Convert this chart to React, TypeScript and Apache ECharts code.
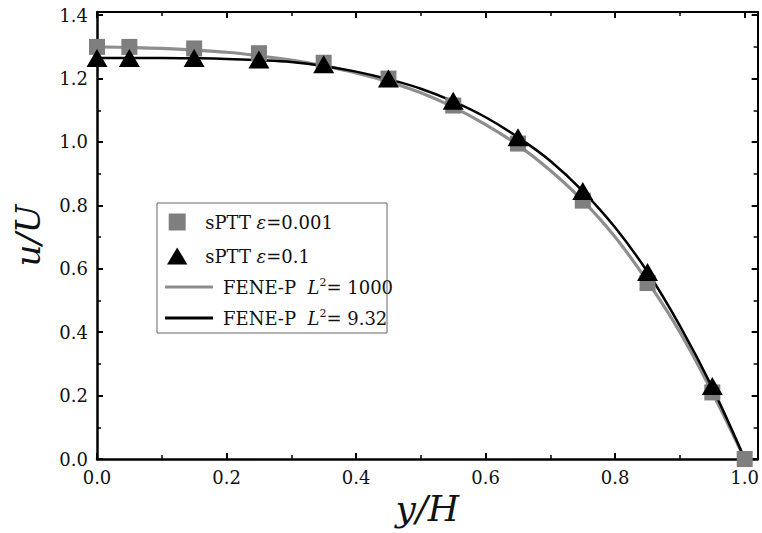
import React, { useEffect, useRef } from "react";
import * as echarts from "echarts";

const squareX = [0, 0.05, 0.15, 0.25, 0.35, 0.45, 0.55, 0.65, 0.75, 0.85, 0.95, 1.0];
const squareY = [1.3, 1.3, 1.295, 1.28, 1.25, 1.2, 1.115, 0.995, 0.815, 0.555, 0.21, 0.0];
const triX = [0, 0.05, 0.15, 0.25, 0.35, 0.45, 0.55, 0.65, 0.75, 0.85, 0.95];
const triY = [1.265, 1.265, 1.265, 1.26, 1.245, 1.2, 1.13, 1.015, 0.845, 0.59, 0.23];
const lineX = [0, 0.05, 0.1, 0.15, 0.2, 0.25, 0.3, 0.35, 0.4, 0.45, 0.5, 0.55, 0.6, 0.65, 0.7, 0.75, 0.8, 0.85, 0.9, 0.95, 1.0];
const grayLineY = [1.3, 1.298, 1.295, 1.29, 1.283, 1.272, 1.258, 1.24, 1.218, 1.19, 1.155, 1.11, 1.055, 0.99, 0.91, 0.815, 0.7, 0.56, 0.4, 0.21, 0.0];
const blackLineY = [1.265, 1.265, 1.265, 1.264, 1.262, 1.258, 1.252, 1.24, 1.222, 1.198, 1.168, 1.128, 1.078, 1.015, 0.94, 0.845, 0.73, 0.59, 0.42, 0.225, 0.0];

const names = ["sPTT e0.001", "sPTT e0.1", "FENE-P 1000", "FENE-P 9.32"];
const legendText: Record<string, string> = {
  "sPTT e0.001": "{n|sPTT }{i|ε}{n|=0.001}",
  "sPTT e0.1": "{n|sPTT }{i|ε}{n|=0.1}",
  "FENE-P 1000": "{g|}{n|FENE-P  }{i|L}{s|2}{n|= 1000}",
  "FENE-P 9.32": "{g|}{n|FENE-P  }{i|L}{s|2}{n|= 9.32}",
};

const FONT = "DejaVu Serif";

const rich = {
  g: { width: 5, lineHeight: 20 },
  n: { fontFamily: FONT, fontSize: 18, color: "#111", lineHeight: 20 },
  i: { fontFamily: FONT, fontSize: 18, fontStyle: "italic", color: "#111", lineHeight: 20 },
  s: { fontFamily: FONT, fontSize: 11, color: "#111", lineHeight: 11, verticalAlign: "top" },
};

export default function App() {
  const ref = useRef<HTMLDivElement>(null);
  useEffect(() => {
    document.body.style.margin = "0";
    if (!ref.current) return;
    const chart = echarts.init(ref.current, null, { renderer: "svg" });
    const axisCommon = {
      type: "value",
      axisLine: { show: true, onZero: false, lineStyle: { color: "#000", width: 2.5 } },
      axisTick: { show: true, inside: true, length: 6, lineStyle: { color: "#000", width: 2 } },
      minorTick: { show: true, splitNumber: 2, length: 4, lineStyle: { color: "#000", width: 1.5 } },
      splitLine: { show: false },
    };
    const option = {
      animation: false,
      backgroundColor: "#fff",
      grid: { left: 97, top: 12, right: 3, bottom: 74 },
      xAxis: [
        {
          ...axisCommon,
          min: 0,
          max: 1.02,
          interval: 0.2,
          name: "y/H",
          nameLocation: "middle",
          nameGap: 24,
          nameTextStyle: { fontFamily: FONT, fontStyle: "italic", fontSize: 36, color: "#111" },
          axisLabel: {
            showMaxLabel: false,
            margin: 9,
            fontFamily: FONT,
            fontSize: 18,
            color: "#111",
            formatter: (v: number) => v.toFixed(1),
          },
        },
        {
          ...axisCommon,
          position: "top",
          min: 0,
          max: 1.02,
          interval: 0.2,
          axisLine: { show: true, onZero: false, lineStyle: { color: "#000", width: 2 } },
          axisLabel: { show: false },
        },
      ],
      yAxis: [
        {
          ...axisCommon,
          min: 0,
          max: 1.41,
          interval: 0.2,
          name: "u/U",
          nameLocation: "middle",
          nameGap: 52,
          nameRotate: 90,
          nameTextStyle: { fontFamily: FONT, fontStyle: "italic", fontSize: 34, color: "#111" },
          axisLabel: {
            showMaxLabel: false,
            margin: 9,
            fontFamily: FONT,
            fontSize: 18,
            color: "#111",
            formatter: (v: number) => v.toFixed(1),
          },
        },
        {
          ...axisCommon,
          position: "right",
          min: 0,
          max: 1.41,
          interval: 0.2,
          axisLine: { show: true, onZero: false, lineStyle: { color: "#000", width: 2 } },
          axisLabel: { show: false },
        },
      ],
      legend: [
        {
          data: [
            { name: names[0], icon: "path://M0,0H10V10H0Z" },
            { name: names[1], icon: "path://M6,0L12,10H0Z" },
          ],
          orient: "vertical",
          left: 162,
          top: 208,
          itemWidth: 46,
          itemHeight: 17,
          itemGap: 16,
          formatter: (n: string) => legendText[n],
          textStyle: { rich },
          selectedMode: false,
        },
        {
          data: [
            { name: names[2], icon: "rect" },
            { name: names[3], icon: "rect" },
          ],
          orient: "vertical",
          left: 160,
          top: 272,
          itemWidth: 48,
          itemHeight: 3,
          itemGap: 12,
          formatter: (n: string) => legendText[n],
          textStyle: { rich },
          selectedMode: false,
        },
      ],
      graphic: [
        {
          type: "rect",
          shape: { x: 157, y: 203, width: 230, height: 130 },
          style: { fill: "none", stroke: "#666", lineWidth: 1 },
          z: 10,
        },
      ],
      series: [
        {
          name: names[2],
          type: "line",
          smooth: 0.4,
          symbol: "none",
          data: lineX.map((x, i) => [x, grayLineY[i]]),
          lineStyle: { color: "#8e8e8e", width: 3.2 },
          itemStyle: { color: "#8e8e8e" },
          z: 2,
        },
        {
          name: names[3],
          type: "line",
          smooth: 0.4,
          symbol: "none",
          data: lineX.map((x, i) => [x, blackLineY[i]]),
          lineStyle: { color: "#000", width: 2.5 },
          itemStyle: { color: "#000" },
          z: 3,
        },
        {
          name: names[0],
          type: "scatter",
          symbol: "rect",
          symbolSize: 16,
          data: squareX.map((x, i) => [x, squareY[i]]),
          itemStyle: { color: "#7f7f7f", opacity: 1 },
          z: 4,
        },
        {
          name: names[1],
          type: "scatter",
          symbol: "triangle",
          symbolSize: [21, 18],
          data: triX.map((x, i) => [x, triY[i]]),
          itemStyle: { color: "#000", opacity: 1 },
          z: 5,
        },
      ],
    };
    chart.setOption(option as any);
    return () => chart.dispose();
  }, []);
  return <div ref={ref} style={{ width: 762, height: 533 }} />;
}
